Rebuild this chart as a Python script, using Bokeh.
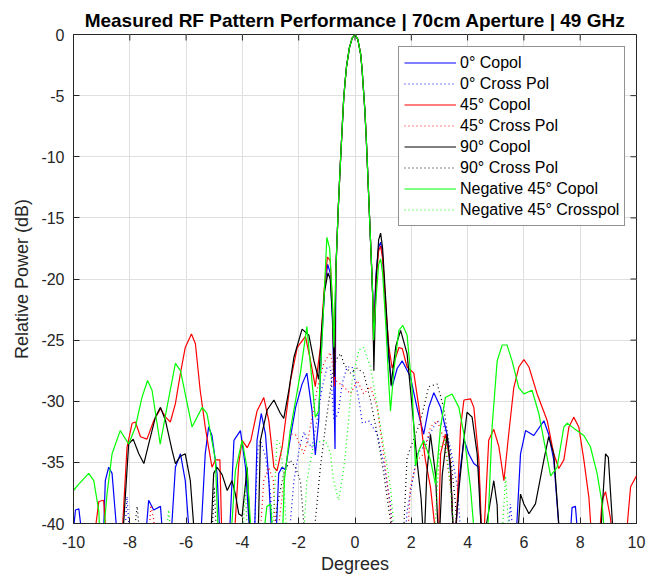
import math
from bokeh.plotting import figure
from bokeh.models import Range1d, FixedTicker, Legend, LegendItem
from bokeh.embed import file_html
from bokeh.resources import INLINE

# ---------------- data ----------------
x_ticks = [-10, -8, -6, -4, -2, 0, 2, 4, 6, 8, 10]
x_tick_labels = ["-10", "-8", "-6", "-4", "-2", "0", "2", "4", "6", "8", "10"]
y_ticks = [-40, -35, -30, -25, -20, -15, -10, -5, 0]
y_tick_labels = ["-40", "-35", "-30", "-25", "-20", "-15", "-10", "-5", "0"]

# shared main lobe of the co-polar cuts
ml_deg = [-0.68, -0.65, -0.60, -0.55, -0.50, -0.45, -0.40, -0.35, -0.30, -0.20, -0.10, 0.0,
          0.10, 0.20, 0.25, 0.30, 0.35, 0.40, 0.45, 0.50, 0.55, 0.60, 0.63]
ml_db = [-19.3, -17.5, -14.5, -12.0, -9.6, -7.4, -5.2, -3.8, -2.6, -1.1, -0.3, 0.0,
         -0.4, -1.6, -2.8, -4.5, -6.2, -8.5, -11.2, -14.0, -16.8, -19.6, -21.5]

# 0 deg copol (blue)
co0_left_deg = [-10.0, -9.93, -9.81, -9.7, -8.95, -8.87, -8.75, -8.63, -8.45, -7.47, -7.33, -7.15, -6.91, -6.8,
                -6.56, -6.38, -6.2, -6.03, -5.85, -5.5, -5.32, -5.2, -5.08, -4.9, -4.78, -4.48, -4.3, -4.07,
                -3.89, -3.71, -3.58, -3.48, -3.33, -3.18, -3.06, -2.94, -2.82, -2.71, -2.59, -2.47, -2.29,
                -2.11, -1.88, -1.71, -1.53, -1.41, -1.29, -1.18, -1.08, -0.97, -0.88, -0.79, -0.71]
co0_left_db = [-40.5, -38.9, -38.8, -41, -42, -36.5, -35.4, -35.9, -41, -42, -38.1, -38.9, -38.6, -42,
               -42, -35.4, -34.3, -36.5, -42, -42, -34.3, -32.1, -32.8, -35.9, -42, -42, -33.2, -32.4,
               -35.4, -42, -42, -33.2, -31.0, -32.7, -36.5, -42, -42, -35.9, -35.4, -35.6, -32.9,
               -30.5, -28.6, -27.7, -30.7, -34.4, -31.6, -25.0, -20.8, -18.8, -19.5, -24.0, -33.9]
co0_right_deg = [0.66, 0.75, 0.84, 0.91, 0.98, 1.1, 1.2, 1.32, 1.5, 1.68, 1.97, 2.2, 2.44, 2.62, 2.8, 3.04,
                 3.27, 3.4, 3.51, 3.6, 3.69, 3.87, 4.04, 4.22, 4.4, 4.5, 5.65, 5.75, 5.88, 6.06, 6.35,
                 6.71, 6.88, 7.06, 7.3, 7.62, 7.71, 7.83, 7.95, 10.0]
co0_right_db = [-24.0, -19.5, -17.4, -17.0, -18.0, -23.0, -26.5, -28.8, -27.3, -26.7, -28.0, -30.5, -32.7,
                -30.5, -29.3, -30.5, -32.7, -36.0, -42, -40, -36.5, -33.1, -34.3, -35.1, -35.4, -42,
                -42, -40, -34.3, -32.4, -32.8, -31.6, -32.7, -34.8, -42, -42, -38.7, -38.6, -42, -42]

# 0 deg cross pol (blue dotted)
x0_deg = [-8.2, -8.1, -7.98, -3.6, -3.45, -3.36, -3.18, -3.0, -2.9, -2.3, -2.17, -1.95, -1.8, -1.71,
          -1.53, -1.35, -1.17, -0.99, -0.87, -0.75, -0.6, -0.45, -0.28, -0.1, 0.14, 0.26, 0.49, 0.79,
          1.02, 1.26, 1.38, 1.75, 1.85, 2.21, 2.45, 2.7, 2.92, 3.15, 3.39, 3.63, 3.8, 5.4, 5.52, 5.65, 10.0]
x0_db = [-42, -37.8, -42, -42, -34.0, -33.2, -34.5, -37.6, -42, -40, -36.5, -33.5, -32.5, -33.2,
         -33.8, -31.6, -28.9, -27.2, -27.2, -31.6, -31.0, -28.5, -27.2, -27.2, -29.9, -31.8, -31.6, -32.7,
         -35.1, -38.4, -42, -42, -39, -34.3, -33.7, -32.5, -31.6, -32.0, -33.8, -36.9, -42, -42, -38.4, -42, -42]

# 45 deg copol (red)
co45_left_deg = [-10.0, -9.3, -9.2, -9.1, -8.93, -8.81, -8.3, -8.1, -7.92, -7.8, -7.62, -7.39, -7.15, -6.91,
                 -6.73, -6.56, -6.38, -6.2, -6.03, -5.81, -5.67, -5.5, -5.32, -5.2, -5.08, -4.96, -4.8,
                 -4.72, -4.31, -4.13, -4.01, -3.83, -3.7, -3.48, -3.24, -3.06, -2.88, -2.77, -2.59, -2.29,
                 -2.05, -1.76, -1.58, -1.41, -1.23, -1.1, -0.98, -0.88, -0.8, -0.73]
co45_left_db = [-42, -42, -40, -38.2, -38.1, -42, -42, -33.8, -31.8, -31.7, -32.9, -33.1, -31.6, -30.6,
                -31.3, -31.7, -30.2, -27.7, -25.6, -24.5, -25.3, -29.1, -32.1, -33.8, -35.4, -34.8, -34.8,
                -42, -42, -35.1, -33.2, -33.8, -33.2, -30.8, -29.7, -31.6, -35.4, -35.7, -33.8, -28.3,
                -25.6, -24.7, -26.7, -28.8, -25.6, -21.0, -18.2, -18.5, -22.0, -28.8]
co45_right_deg = [0.66, 0.75, 0.84, 0.91, 0.98, 1.1, 1.2, 1.32, 1.56, 1.68, 1.85, 2.09, 2.27, 2.5, 2.68,
                  2.92, 2.98, 3.04, 3.21, 3.39, 3.51, 3.6, 3.75, 3.87, 4.1, 4.22, 4.4, 4.52, 4.6, 4.75,
                  4.93, 5.11, 5.29, 5.46, 5.64, 5.82, 6.0, 6.18, 6.47, 6.83, 7.06, 7.24, 7.42, 7.6, 7.77,
                  7.95, 8.13, 8.31, 8.43, 8.65, 8.78, 8.9, 9.07, 9.2, 9.6, 9.79, 10.0]
co45_right_db = [-25.5, -20.0, -17.7, -17.3, -18.3, -22.5, -25.5, -27.3, -25.6, -25.7, -27.2, -27.7, -30.5,
                 -34.8, -37.0, -42, -40, -34.3, -32.7, -35.1, -42, -40, -32.1, -29.9, -29.8, -30.5, -34.8,
                 -42, -40, -33.2, -32.3, -33.7, -36.5, -32.7, -28.9, -27.2, -26.6, -27.2, -29.4, -31.6,
                 -34.3, -35.5, -34.8, -32.1, -31.3, -32.1, -34.8, -37.9, -42, -42, -38.1, -37.4, -39.5,
                 -42, -42, -37.0, -36.1]

# 45 deg cross pol (red dotted)
x45_deg = [-7.35, -7.25, -7.15, -7.05, -3.4, -3.24, -3.06, -2.9, -2.8, -2.7, -2.47, -2.3, -2.12, -1.82,
           -1.65, -1.35, -1.11, -0.88, -0.69, -0.4, -0.16, 0.08, 0.31, 0.55, 0.79, 1.02, 1.26, 1.35,
           1.85, 1.97, 2.21, 2.45, 2.68, 2.92, 3.15, 3.39, 3.55, 10.0]
x45_db = [-42, -38.5, -39.7, -42, -42, -36.5, -35.4, -36.5, -42, -40, -35.4, -32.7, -32.7, -34.3,
          -32.9, -29.1, -26.9, -26.0, -28.3, -28.8, -29.4, -28.3, -29.4, -28.8, -30.5, -34.3, -38.9, -42,
          -42, -37.0, -34.8, -34.3, -32.1, -31.6, -33.0, -36.9, -42, -42]

# 90 deg copol (black)
co90_left_deg = [-10.0, -8.3, -8.22, -8.04, -7.88, -7.68, -7.5, -7.33, -7.09, -6.91, -6.73, -6.5, -6.38,
                 -6.2, -6.03, -5.85, -5.67, -5.14, -5.02, -4.9, -4.72, -4.54, -4.37, -4.25, -4.13, -4.01,
                 -3.83, -3.7, -3.45, -3.36, -3.12, -2.88, -2.65, -2.53, -2.35, -2.17, -1.88, -1.64, -1.46,
                 -1.29, -1.18, -1.08, -0.96, -0.88, -0.8, -0.73]
co90_left_db = [-42, -42, -40, -33.5, -33.1, -34.3, -35.1, -33.5, -31.3, -30.5, -31.6, -34.0, -35.1,
                -34.5, -34.3, -36.5, -42, -42, -35.9, -35.4, -36.0, -37.3, -36.5, -37.6, -39.2, -39.4,
                -35.4, -42, -42, -33.2, -30.7, -29.9, -31.0, -31.4, -29.1, -26.4, -24.1, -24.6, -26.7,
                -28.2, -24.0, -21.0, -19.5, -20.0, -23.0, -28.0]
co90_right_deg = [0.67, 0.75, 0.84, 0.91, 0.98, 1.1, 1.2, 1.28, 1.45, 1.62, 1.85, 2.03, 2.2, 2.35, 2.45,
                  2.55, 2.68, 2.86, 2.98, 3.1, 3.27, 3.39, 3.51, 3.7, 3.87, 3.98, 4.16, 4.34, 4.52, 4.75,
                  4.93, 5.05, 5.1, 5.75, 5.88, 6.0, 6.18, 6.41, 6.71, 6.88, 7.06, 7.3, 8.7, 8.9, 9.0, 9.2, 10.0]
co90_right_db = [-27.5, -20.0, -16.8, -16.25, -17.5, -22.0, -26.0, -28.7, -25.5, -24.2, -26.1, -30.5,
                 -34.8, -38.0, -42, -36.0, -32.7, -36.0, -42, -36.0, -32.7, -35.3, -42, -37.0, -33.1,
                 -30.9, -31.3, -34.3, -42, -39.0, -36.5, -38.5, -42, -42, -37.6, -38.4, -39.2, -38.4,
                 -34.8, -32.9, -34.3, -42, -42, -34.3, -34.6, -42, -42]

# 90 deg cross pol (black dotted)
x90_deg = [-7.9, -7.74, -7.6, -5.1, -5.0, -4.9, -2.9, -2.77, -2.53, -2.3, -2.12, -1.94, -1.75, -1.5,
           -1.23, -0.99, -0.76, -0.64, -0.51, -0.4, -0.17, 0.07, 0.31, 0.55, 0.79, 1.02, 1.26, 1.4,
           1.7, 1.85, 2.1, 2.33, 2.62, 2.92, 3.15, 3.39, 3.57, 3.65, 10.0]
x90_db = [-42, -38.6, -42, -42, -37.0, -42, -42, -38.6, -35.9, -34.8, -35.4, -36.5, -42, -42,
          -35.4, -31.0, -27.2, -26.5, -26.1, -26.9, -27.7, -27.3, -27.7, -29.9, -32.7, -35.9, -39.8, -42,
          -42, -34.6, -33.0, -31.6, -28.8, -28.6, -30.5, -34.3, -38.4, -42, -42]

# negative 45 deg copol (green)
con45_left_deg = [-10.0, -9.82, -9.46, -9.28, -9.1, -9.05, -8.9, -8.81, -8.63, -8.34, -8.04, -7.8, -7.57,
                  -7.37, -7.21, -6.92, -6.68, -6.38, -6.2, -5.79, -5.43, -5.26, -4.96, -4.84, -4.43,
                  -4.25, -4.01, -3.84, -3.66, -3.3, -3.13, -3.0, -2.89, -2.59, -2.51, -2.3, -1.94, -1.71,
                  -1.53, -1.41, -1.29, -1.15, -1.0, -0.9, -0.8, -0.75]
con45_left_db = [-37.3, -36.8, -35.9, -36.5, -39.0, -42, -40, -37.6, -34.3, -32.4, -33.5, -32.1, -29.7,
                 -28.3, -29.1, -33.5, -30.5, -26.9, -27.5, -32.1, -30.5, -31.0, -34.8, -42, -42,
                 -35.7, -33.2, -35.4, -42, -42, -38.6, -38.4, -42, -42, -36.5, -32.4, -27.7, -23.9,
                 -28.3, -31.3, -30.8, -24.0, -16.6, -17.5, -22.0, -25.6]
con45_right_deg = [0.66, 0.75, 0.84, 0.91, 0.98, 1.1, 1.2, 1.26, 1.38, 1.56, 1.7, 1.85, 2.03, 2.15, 2.27,
                   2.44, 2.68, 2.86, 3.04, 3.21, 3.45, 3.69, 3.87, 4.1, 4.28, 4.69, 4.87, 5.05, 5.23, 5.4,
                   5.58, 5.82, 6.0, 6.29, 6.53, 6.71, 6.95, 7.18, 7.42, 7.54, 7.77, 8.13, 8.36, 8.6, 8.78,
                   8.9, 10.0]
con45_right_db = [-25.0, -21.5, -18.8, -18.35, -19.5, -24.0, -28.5, -30.8, -27.5, -24.2, -23.8, -24.6,
                  -29.1, -35.3, -34.0, -33.2, -34.8, -36.8, -32.1, -29.7, -29.4, -30.5, -32.7, -37.0, -42,
                  -42, -32.1, -26.7, -25.4, -25.4, -26.7, -28.9, -29.4, -29.1, -31.0, -33.2, -36.1, -35.4,
                  -32.1, -31.8, -32.2, -32.8, -33.7, -35.9, -38.4, -42, -42]

# negative 45 deg cross pol (green dotted)
xn45_deg = [-6.75, -6.62, -6.5, -4.0, -3.9, -3.8, -2.95, -2.77, -2.65, -2.53, -2.41, -1.85, -1.71, -1.47,
            -1.11, -0.99, -0.87, -0.76, -0.58, -0.4, -0.34, -0.1, 0.14, 0.31, 0.55, 0.79, 1.02, 1.26,
            1.44, 2.8, 3.0, 3.2, 3.4, 3.55, 5.2, 5.35, 5.5, 10.0]
xn45_db = [-42, -38.9, -42, -42, -37.0, -42, -42, -33.2, -33.5, -36.5, -42, -42, -36.5, -33.5,
           -33.2, -33.5, -34.3, -36.5, -38.1, -35.5, -34.3, -28.3, -25.8, -25.6, -27.2, -30.4, -33.7, -37.0,
           -42, -42, -34.0, -33.0, -37.0, -42, -42, -36.1, -42, -42]

labels = ["0° Copol", "0° Cross Pol", "45° Copol", "45° Cross Pol",
          "90° Copol", "90° Cross Pol", "Negative 45° Copol", "Negative 45° Crosspol"]

# ---------------- build series ----------------
series = [
    (co0_left_deg + ml_deg + co0_right_deg, co0_left_db + ml_db + co0_right_db, "#0000FF", "solid"),
    (x0_deg, x0_db, "#0000FF", "1 3"),
    (co45_left_deg + ml_deg + co45_right_deg, co45_left_db + ml_db + co45_right_db, "#FF0000", "solid"),
    (x45_deg, x45_db, "#FF0000", "1 3"),
    (co90_left_deg + ml_deg + co90_right_deg, co90_left_db + ml_db + co90_right_db, "#000000", "solid"),
    (x90_deg, x90_db, "#000000", "1 3"),
    (con45_left_deg + ml_deg + con45_right_deg, con45_left_db + ml_db + con45_right_db, "#00FF00", "solid"),
    (xn45_deg, xn45_db, "#00FF00", "1 3"),
]

FONT = "Liberation Sans"
AX = "#262626"

p = figure(width=652, height=578, output_backend="svg", toolbar_location=None,
           x_range=Range1d(-10, 10), y_range=Range1d(-40, 0),
           frame_width=563, frame_height=489,
           min_border_left=73, min_border_right=16, min_border_top=34, min_border_bottom=55)
p.background_fill_color = "white"
p.border_fill_color = "white"
p.outline_line_color = AX
p.outline_line_width = 1

p.title.text = "Measured RF Pattern Performance | 70cm Aperture | 49 GHz"
p.title.text_font = FONT
p.title.text_font_size = "19px"
p.title.text_font_style = "bold"
p.title.text_color = "#000000"
p.title.align = "center"
p.title.standoff = 7

# grid
xticker = FixedTicker(ticks=x_ticks)
yticker = FixedTicker(ticks=y_ticks)
p.xgrid.ticker = xticker
p.ygrid.ticker = yticker
for g in (p.xgrid[0], p.ygrid[0]):
    g.grid_line_color = "#DFDFDF"
    g.grid_line_width = 1

renderers = []
for (xs, ys, col, dash) in series:
    r = p.line(xs, ys, line_color=col, line_width=1.2, line_dash=dash)
    renderers.append(r)

# inward tick marks on the top and right edges of the box (MATLAB "box on")
p.ray(x=x_ticks, y=[0] * len(x_ticks), length=6, length_units="screen",
      angle=-math.pi / 2, line_color=AX, line_width=1)
p.ray(x=[10] * len(y_ticks), y=y_ticks, length=6, length_units="screen",
      angle=math.pi, line_color=AX, line_width=1)

def style_axis(ax):
    ax.axis_line_color = AX
    ax.major_tick_line_color = AX
    ax.major_tick_in = 6
    ax.major_tick_out = 0
    ax.minor_tick_in = 0
    ax.minor_tick_out = 0
    ax.major_label_text_font = FONT
    ax.major_label_text_color = AX
    ax.major_label_text_font_size = "16px"
    ax.axis_label_text_font = FONT
    ax.axis_label_text_font_style = "normal"
    ax.axis_label_text_color = AX
    ax.axis_label_text_font_size = "18px"

xa = p.xaxis[0]
xa.ticker = xticker
xa.major_label_overrides = dict(zip(x_ticks, x_tick_labels))
xa.axis_label = "Degrees"
style_axis(xa)
xa.major_label_standoff = 12
xa.axis_label_standoff = 3

ya = p.yaxis[0]
ya.ticker = yticker
ya.major_label_overrides = dict(zip(y_ticks, y_tick_labels))
ya.axis_label = "Relative Power (dB)"
style_axis(ya)
ya.major_label_standoff = 9
ya.axis_label_standoff = 6

legend = Legend(items=[LegendItem(label=l, renderers=[r]) for l, r in zip(labels, renderers)],
                location=(325, 297), margin=0, padding=5, spacing=0,
                label_height=21, glyph_height=21, glyph_width=52, label_standoff=4,
                label_text_font=FONT, label_text_font_size="16px", label_text_color="#000000",
                border_line_color=AX, border_line_width=1, background_fill_color="white",
                background_fill_alpha=1.0)
p.add_layout(legend, "center")

open("out.html", "w").write(file_html(p, INLINE))
